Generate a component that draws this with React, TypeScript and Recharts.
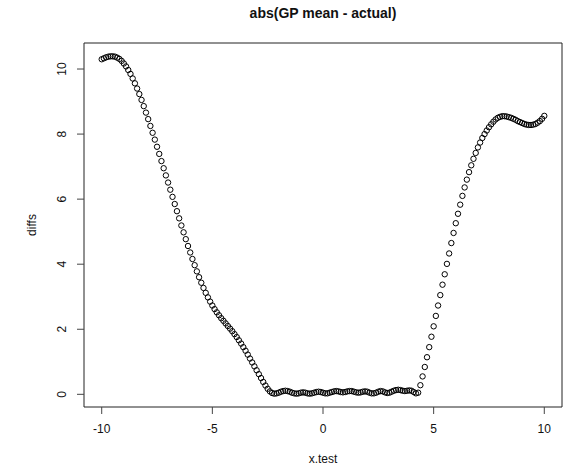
import React from 'react';
import {
    ScatterChart,
    Scatter,
    XAxis,
    YAxis,
    ReferenceArea
} from 'recharts';

// x.test grid, -10 .. 10 by 0.1
const xTest = [
    -10.0, -9.9, -9.8, -9.7, -9.6, -9.5, -9.4, -9.3, -9.2, -9.1,
    -9.0, -8.9, -8.8, -8.7, -8.6, -8.5, -8.4, -8.3, -8.2, -8.1,
    -8.0, -7.9, -7.8, -7.7, -7.6, -7.5, -7.4, -7.3, -7.2, -7.1,
    -7.0, -6.9, -6.8, -6.7, -6.6, -6.5, -6.4, -6.3, -6.2, -6.1,
    -6.0, -5.9, -5.8, -5.7, -5.6, -5.5, -5.4, -5.3, -5.2, -5.1,
    -5.0, -4.9, -4.8, -4.7, -4.6, -4.5, -4.4, -4.3, -4.2, -4.1,
    -4.0, -3.9, -3.8, -3.7, -3.6, -3.5, -3.4, -3.3, -3.2, -3.1,
    -3.0, -2.9, -2.8, -2.7, -2.6, -2.5, -2.4, -2.3, -2.2, -2.1,
    -2.0, -1.9, -1.8, -1.7, -1.6, -1.5, -1.4, -1.3, -1.2, -1.1,
    -1.0, -0.9, -0.8, -0.7, -0.6, -0.5, -0.4, -0.3, -0.2, -0.1,
    0.0, 0.1, 0.2, 0.3, 0.4, 0.5, 0.6, 0.7, 0.8, 0.9,
    1.0, 1.1, 1.2, 1.3, 1.4, 1.5, 1.6, 1.7, 1.8, 1.9,
    2.0, 2.1, 2.2, 2.3, 2.4, 2.5, 2.6, 2.7, 2.8, 2.9,
    3.0, 3.1, 3.2, 3.3, 3.4, 3.5, 3.6, 3.7, 3.8, 3.9,
    4.0, 4.1, 4.2, 4.3, 4.4, 4.5, 4.6, 4.7, 4.8, 4.9,
    5.0, 5.1, 5.2, 5.3, 5.4, 5.5, 5.6, 5.7, 5.8, 5.9,
    6.0, 6.1, 6.2, 6.3, 6.4, 6.5, 6.6, 6.7, 6.8, 6.9,
    7.0, 7.1, 7.2, 7.3, 7.4, 7.5, 7.6, 7.7, 7.8, 7.9,
    8.0, 8.1, 8.2, 8.3, 8.4, 8.5, 8.6, 8.7, 8.8, 8.9,
    9.0, 9.1, 9.2, 9.3, 9.4, 9.5, 9.6, 9.7, 9.8, 9.9,
    10.0
];

const diffs = [
    10.30, 10.33, 10.36, 10.38, 10.39, 10.39, 10.38, 10.35, 10.31, 10.25,
    10.17, 10.08, 9.97, 9.85, 9.71, 9.56, 9.40, 9.23, 9.05, 8.86,
    8.66, 8.46, 8.25, 8.04, 7.83, 7.61, 7.39, 7.17, 6.95, 6.73,
    6.51, 6.29, 6.07, 5.85, 5.63, 5.41, 5.19, 4.98, 4.77, 4.56,
    4.36, 4.16, 3.97, 3.78, 3.60, 3.43, 3.27, 3.12, 2.98, 2.85,
    2.73, 2.62, 2.52, 2.43, 2.34, 2.26, 2.18, 2.10, 2.02, 1.94,
    1.85, 1.76, 1.66, 1.56, 1.45, 1.34, 1.22, 1.10, 0.98, 0.86,
    0.74, 0.62, 0.50, 0.38, 0.27, 0.17, 0.09, 0.04, 0.02, 0.03,
    0.05, 0.08, 0.10, 0.11, 0.10, 0.08, 0.05, 0.03, 0.02, 0.03,
    0.05, 0.06, 0.05, 0.03, 0.02, 0.03, 0.05, 0.07, 0.08, 0.07,
    0.05, 0.03, 0.03, 0.05, 0.07, 0.09, 0.10, 0.09, 0.07, 0.06,
    0.07, 0.09, 0.10, 0.10, 0.08, 0.06, 0.05, 0.06, 0.08, 0.09,
    0.08, 0.05, 0.03, 0.03, 0.05, 0.08, 0.10, 0.09, 0.06, 0.04,
    0.05, 0.08, 0.11, 0.13, 0.14, 0.13, 0.11, 0.10, 0.11, 0.12,
    0.11, 0.07, 0.03, 0.05, 0.28, 0.55, 0.84, 1.14, 1.45, 1.77,
    2.09, 2.41, 2.73, 3.05, 3.37, 3.69, 4.01, 4.33, 4.65, 4.96,
    5.26, 5.55, 5.83, 6.10, 6.36, 6.60, 6.83, 7.04, 7.24, 7.42,
    7.59, 7.74, 7.88, 8.00, 8.11, 8.21, 8.30, 8.38, 8.45, 8.50,
    8.53, 8.55, 8.55, 8.54, 8.52, 8.50, 8.47, 8.44, 8.40, 8.37,
    8.34, 8.31, 8.29, 8.28, 8.28, 8.29, 8.31, 8.35, 8.40, 8.47,
    8.56
];

const xTicks = [-10, -5, 0, 5, 10];
const yTicks = [0, 2, 4, 6, 8, 10];

const points = xTest.map((x, i) => ({ x, y: diffs[i] }));

// R pads the data range by 4% on each side
const xDomain = [-10.8, 10.8];
const yDomain = [-0.39, 10.8];

const font = '"Liberation Sans", Arial, Helvetica, sans-serif';

const OpenCircle = (props: any) => (
    <circle
        cx={props.cx}
        cy={props.cy}
        r={2.7}
        fill="none"
        stroke="#000"
        strokeWidth={1}
    />
);

const YTick = (props: any) => {
    const { x, y, payload } = props;
    return (
        <text
            x={x}
            y={y}
            transform={`rotate(-90 ${x} ${y})`}
            textAnchor="middle"
            fontSize={12}
            fontFamily={font}
            fill="#111"
        >
            {payload.value}
        </text>
    );
};

const App = () => {
    return (
        <div
            style={{
                position: 'absolute',
                left: 0,
                top: 0,
                width: 566,
                height: 467,
                background: '#fff',
                fontFamily: font
            }}
        >
            <div
                style={{
                    position: 'absolute',
                    left: 84,
                    width: 478,
                    top: 5,
                    textAlign: 'center',
                    fontWeight: 'bold',
                    fontSize: 14,
                    lineHeight: '16px',
                    color: '#111'
                }}
            >
                abs(GP mean - actual)
            </div>
            <ScatterChart
                width={566}
                height={467}
                margin={{ top: 43, right: 4, left: 0, bottom: 0 }}
            >
                <XAxis
                    dataKey="x"
                    type="number"
                    domain={xDomain}
                    ticks={xTicks}
                    allowDataOverflow
                    axisLine={false}
                    tickSize={7}
                    tickMargin={10}
                    height={60}
                    tickLine={{ stroke: '#444' }}
                    tick={{ fontSize: 12, fontFamily: font, fill: '#111' }}
                />
                <YAxis
                    dataKey="y"
                    type="number"
                    domain={yDomain}
                    ticks={yTicks}
                    allowDataOverflow
                    axisLine={false}
                    tickSize={7}
                    tickMargin={11}
                    width={84}
                    tickLine={{ stroke: '#444' }}
                    tick={<YTick />}
                />
                <ReferenceArea
                    x1={xDomain[0]}
                    x2={xDomain[1]}
                    y1={yDomain[0]}
                    y2={yDomain[1]}
                    fill="none"
                    stroke="#222"
                    strokeWidth={1}
                    ifOverflow="visible"
                />
                <Scatter
                    data={points}
                    dataKey="y"
                    shape={<OpenCircle />}
                    isAnimationActive={false}
                />
            </ScatterChart>
            <div
                style={{
                    position: 'absolute',
                    left: 323,
                    top: 459,
                    transform: 'translate(-50%, -50%)',
                    fontSize: 12,
                    color: '#111',
                    whiteSpace: 'nowrap'
                }}
            >
                x.test
            </div>
            <div
                style={{
                    position: 'absolute',
                    left: 32,
                    top: 225,
                    transform: 'translate(-50%, -50%) rotate(-90deg)',
                    fontSize: 12,
                    color: '#111',
                    whiteSpace: 'nowrap'
                }}
            >
                diffs
            </div>
        </div>
    );
};

export default App;
